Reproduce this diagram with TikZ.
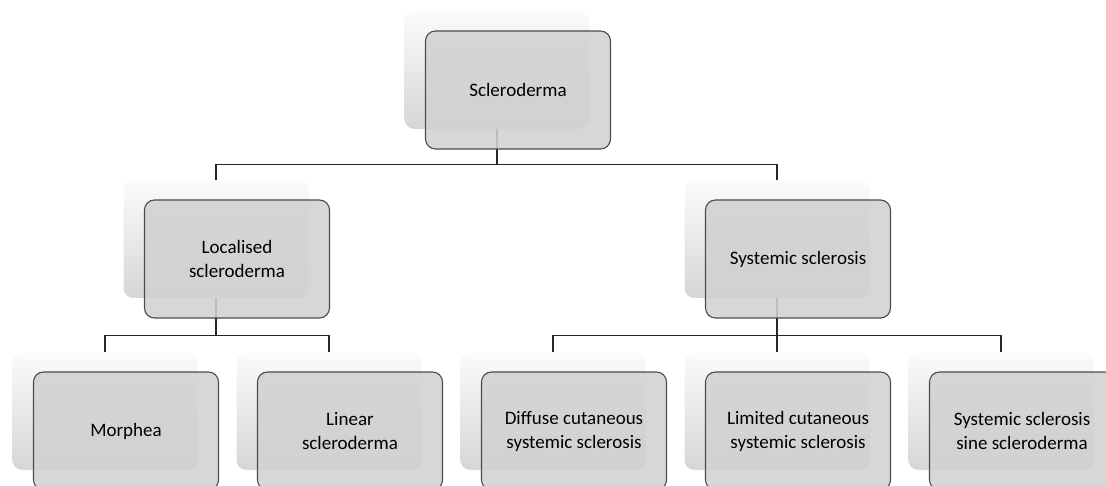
\documentclass[tikz,border=0pt]{standalone}
\usepackage{fontspec}
\setmainfont{Carlito}
\usetikzlibrary{positioning}

\begin{document}
\begin{tikzpicture}[x=1pt, y=-1pt,
  backbox/.style={minimum width=185pt, minimum height=118pt, inner sep=0pt,
    rounded corners=10pt, top color=gray!3, middle color=gray!6, bottom color=gray!32},
  frontbox/.style={minimum width=185pt, minimum height=118pt, inner sep=0pt,
    rounded corners=10pt, draw=black!70, line width=1.1pt, fill=black!18,
    fill opacity=0.88, text opacity=1, text=black, align=center,
    font=\fontsize{19}{24}\selectfont},
  link/.style={line width=1.1pt, black!85}]
  \useasboundingbox (0,0) rectangle (1106,486);

  % Back boxes
  \node[backbox] (sclB) at (497,70) {};
  \node[backbox] (locB) at (216,239) {};
  \node[backbox] (sysB) at (777,239) {};
  \node[backbox] (morB) at (105,411) {};
  \node[backbox] (linB) at (329,411) {};
  \node[backbox] (difB) at (553,411) {};
  \node[backbox] (limB) at (777,411) {};
  \node[backbox] (sinB) at (1001,411) {};

  % Connectors
  \draw[link] (sclB.south) -- ++(0,35) -| (locB.north);
  \draw[link] (sclB.south) -- ++(0,35) -| (sysB.north);
  \draw[link] (locB.south) -- ++(0,37) -| (morB.north);
  \draw[link] (locB.south) -- ++(0,37) -| (linB.north);
  \draw[link] (sysB.south) -- ++(0,37) -| (difB.north);
  \draw[link] (sysB.south) -- ++(0,37) -| (limB.north);
  \draw[link] (sysB.south) -- ++(0,37) -| (sinB.north);

  % Front boxes
  \node[frontbox] (scl) at (518,90) {Scleroderma};
  \node[frontbox] (loc) at (237,259) {Localised\\scleroderma};
  \node[frontbox] (sys) at (798,259) {Systemic sclerosis};
  \node[frontbox] (mor) at (126,431) {Morphea};
  \node[frontbox] (lin) at (350,431) {Linear\\scleroderma};
  \node[frontbox] (dif) at (574,431) {Diffuse cutaneous\\systemic sclerosis};
  \node[frontbox] (lim) at (798,431) {Limited cutaneous\\systemic sclerosis};
  \node[frontbox] (sin) at (1022,431) {Systemic sclerosis\\sine scleroderma};
\end{tikzpicture}
\end{document}
